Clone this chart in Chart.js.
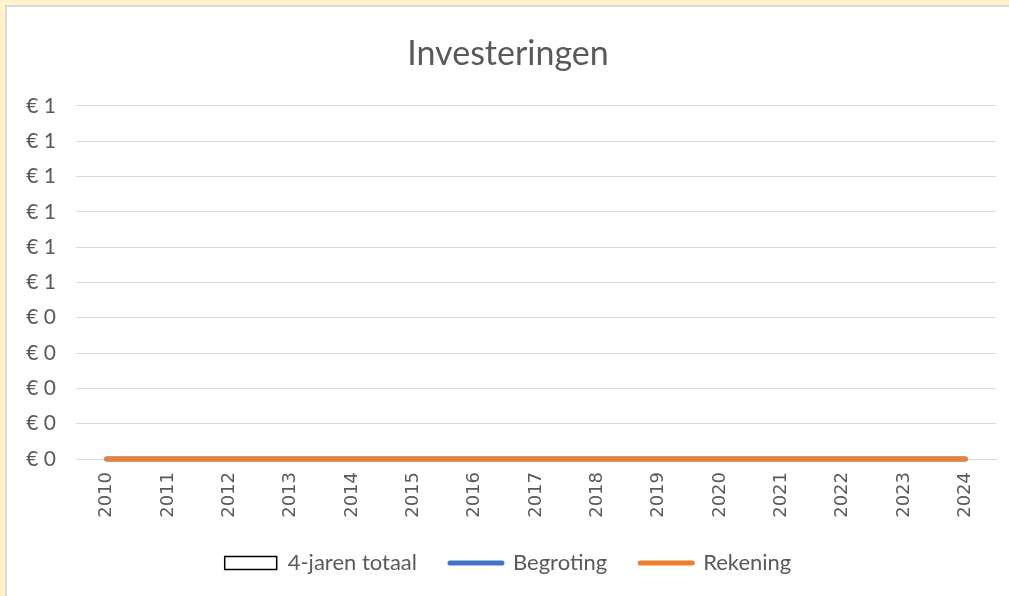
<!DOCTYPE html>
<html>
<head>
<meta charset="utf-8">
<script src="https://cdn.jsdelivr.net/npm/chart.js@4/dist/chart.umd.min.js"></script>
<style>
  html, body { margin: 0; padding: 0; background: #fff2cc; overflow: hidden; }
  .frame { position: absolute; left: 5px; top: 5px; width: 1100px; height: 700px; background: #fff; border: 2px solid #d9d9d9; }
  .holder { position: absolute; left: 0; top: 0; width: 1009px; height: 596px; }
</style>
</head>
<body>
<div class="frame"></div>
<div class="holder"><canvas id="investChart"></canvas></div>
<script>
const years = ['2010', '2011', '2012', '2013', '2014', '2015', '2016', '2017', '2018', '2019', '2020', '2021', '2022', '2023', '2024'];
const vierJarenTotaal = [0, 0, 0, 0, 0, 0, 0, 0, 0, 0, 0, 0, 0, 0, 0];
const begroting = [0, 0, 0, 0, 0, 0, 0, 0, 0, 0, 0, 0, 0, 0, 0];
const rekening = [0, 0, 0, 0, 0, 0, 0, 0, 0, 0, 0, 0, 0, 0, 0];

const textColor = '#595959';
const fontFamily = 'Lato, "Open Sans", sans-serif';

document.addEventListener('DOMContentLoaded', () => {
    const ctx = document.getElementById('investChart');

    new Chart(ctx, {
        type: 'bar',
        data: {
            labels: years,
            datasets: [
                {
                    type: 'bar',
                    label: '4-jaren totaal',
                    data: vierJarenTotaal,
                    backgroundColor: '#ffffff',
                    borderColor: '#000000',
                    borderWidth: 1,
                    order: 3
                },
                {
                    type: 'line',
                    label: 'Begroting',
                    data: begroting,
                    borderColor: '#4472c4',
                    backgroundColor: '#4472c4',
                    borderWidth: 5,
                    borderCapStyle: 'round',
                    pointRadius: 0,
                    clip: false,
                    order: 2
                },
                {
                    type: 'line',
                    label: 'Rekening',
                    data: rekening,
                    borderColor: '#ed7d31',
                    backgroundColor: '#ed7d31',
                    borderWidth: 5,
                    borderCapStyle: 'round',
                    pointRadius: 0,
                    clip: false,
                    order: 1
                }
            ]
        },
        options: {
            responsive: true,
            maintainAspectRatio: false,
            animation: false,
            layout: {
                padding: { left: 20, right: 13, top: 34, bottom: 12 }
            },
            plugins: {
                title: {
                    display: true,
                    text: 'Investeringen',
                    color: textColor,
                    font: { family: fontFamily, size: 34, weight: 'normal' },
                    padding: { top: 0, bottom: 31 }
                },
                legend: {
                    position: 'bottom',
                    labels: {
                        color: textColor,
                        font: { family: fontFamily, size: 22 },
                        usePointStyle: true,
                        pointStyleWidth: 52,
                        boxWidth: 52,
                        boxHeight: 13,
                        padding: 33,
                        generateLabels: (chart) => chart.data.datasets.map((ds, i) => ({
                            text: ds.label,
                            datasetIndex: i,
                            fillStyle: ds.type === 'bar' ? '#ffffff' : ds.borderColor,
                            strokeStyle: ds.borderColor,
                            lineWidth: ds.type === 'bar' ? 1.5 : 5,
                            lineCap: 'round',
                            pointStyle: ds.type === 'bar' ? 'rect' : 'line',
                            fontColor: textColor,
                            hidden: false
                        }))
                    }
                },
                tooltip: { enabled: false }
            },
            scales: {
                x: {
                    offset: true,
                    grid: { display: false, drawTicks: false },
                    border: { color: '#d9d9d9' },
                    ticks: {
                        color: textColor,
                        font: { family: 'DejaVu Sans', size: 18 },
                        minRotation: 90,
                        maxRotation: 90,
                        padding: 13
                    },
                    afterFit: (scale) => { scale.height = 60; }
                },
                y: {
                    min: 0,
                    max: 1,
                    border: { display: false },
                    grid: { color: '#d9d9d9', drawTicks: false },
                    ticks: {
                        stepSize: 0.1,
                        color: textColor,
                        font: { family: fontFamily, size: 21 },
                        padding: 20,
                        callback: (v) => '€ ' + Math.round(v)
                    },
                    afterFit: (scale) => { scale.width = 56; }
                }
            }
        }
    });
});
</script>
</body>
</html>
